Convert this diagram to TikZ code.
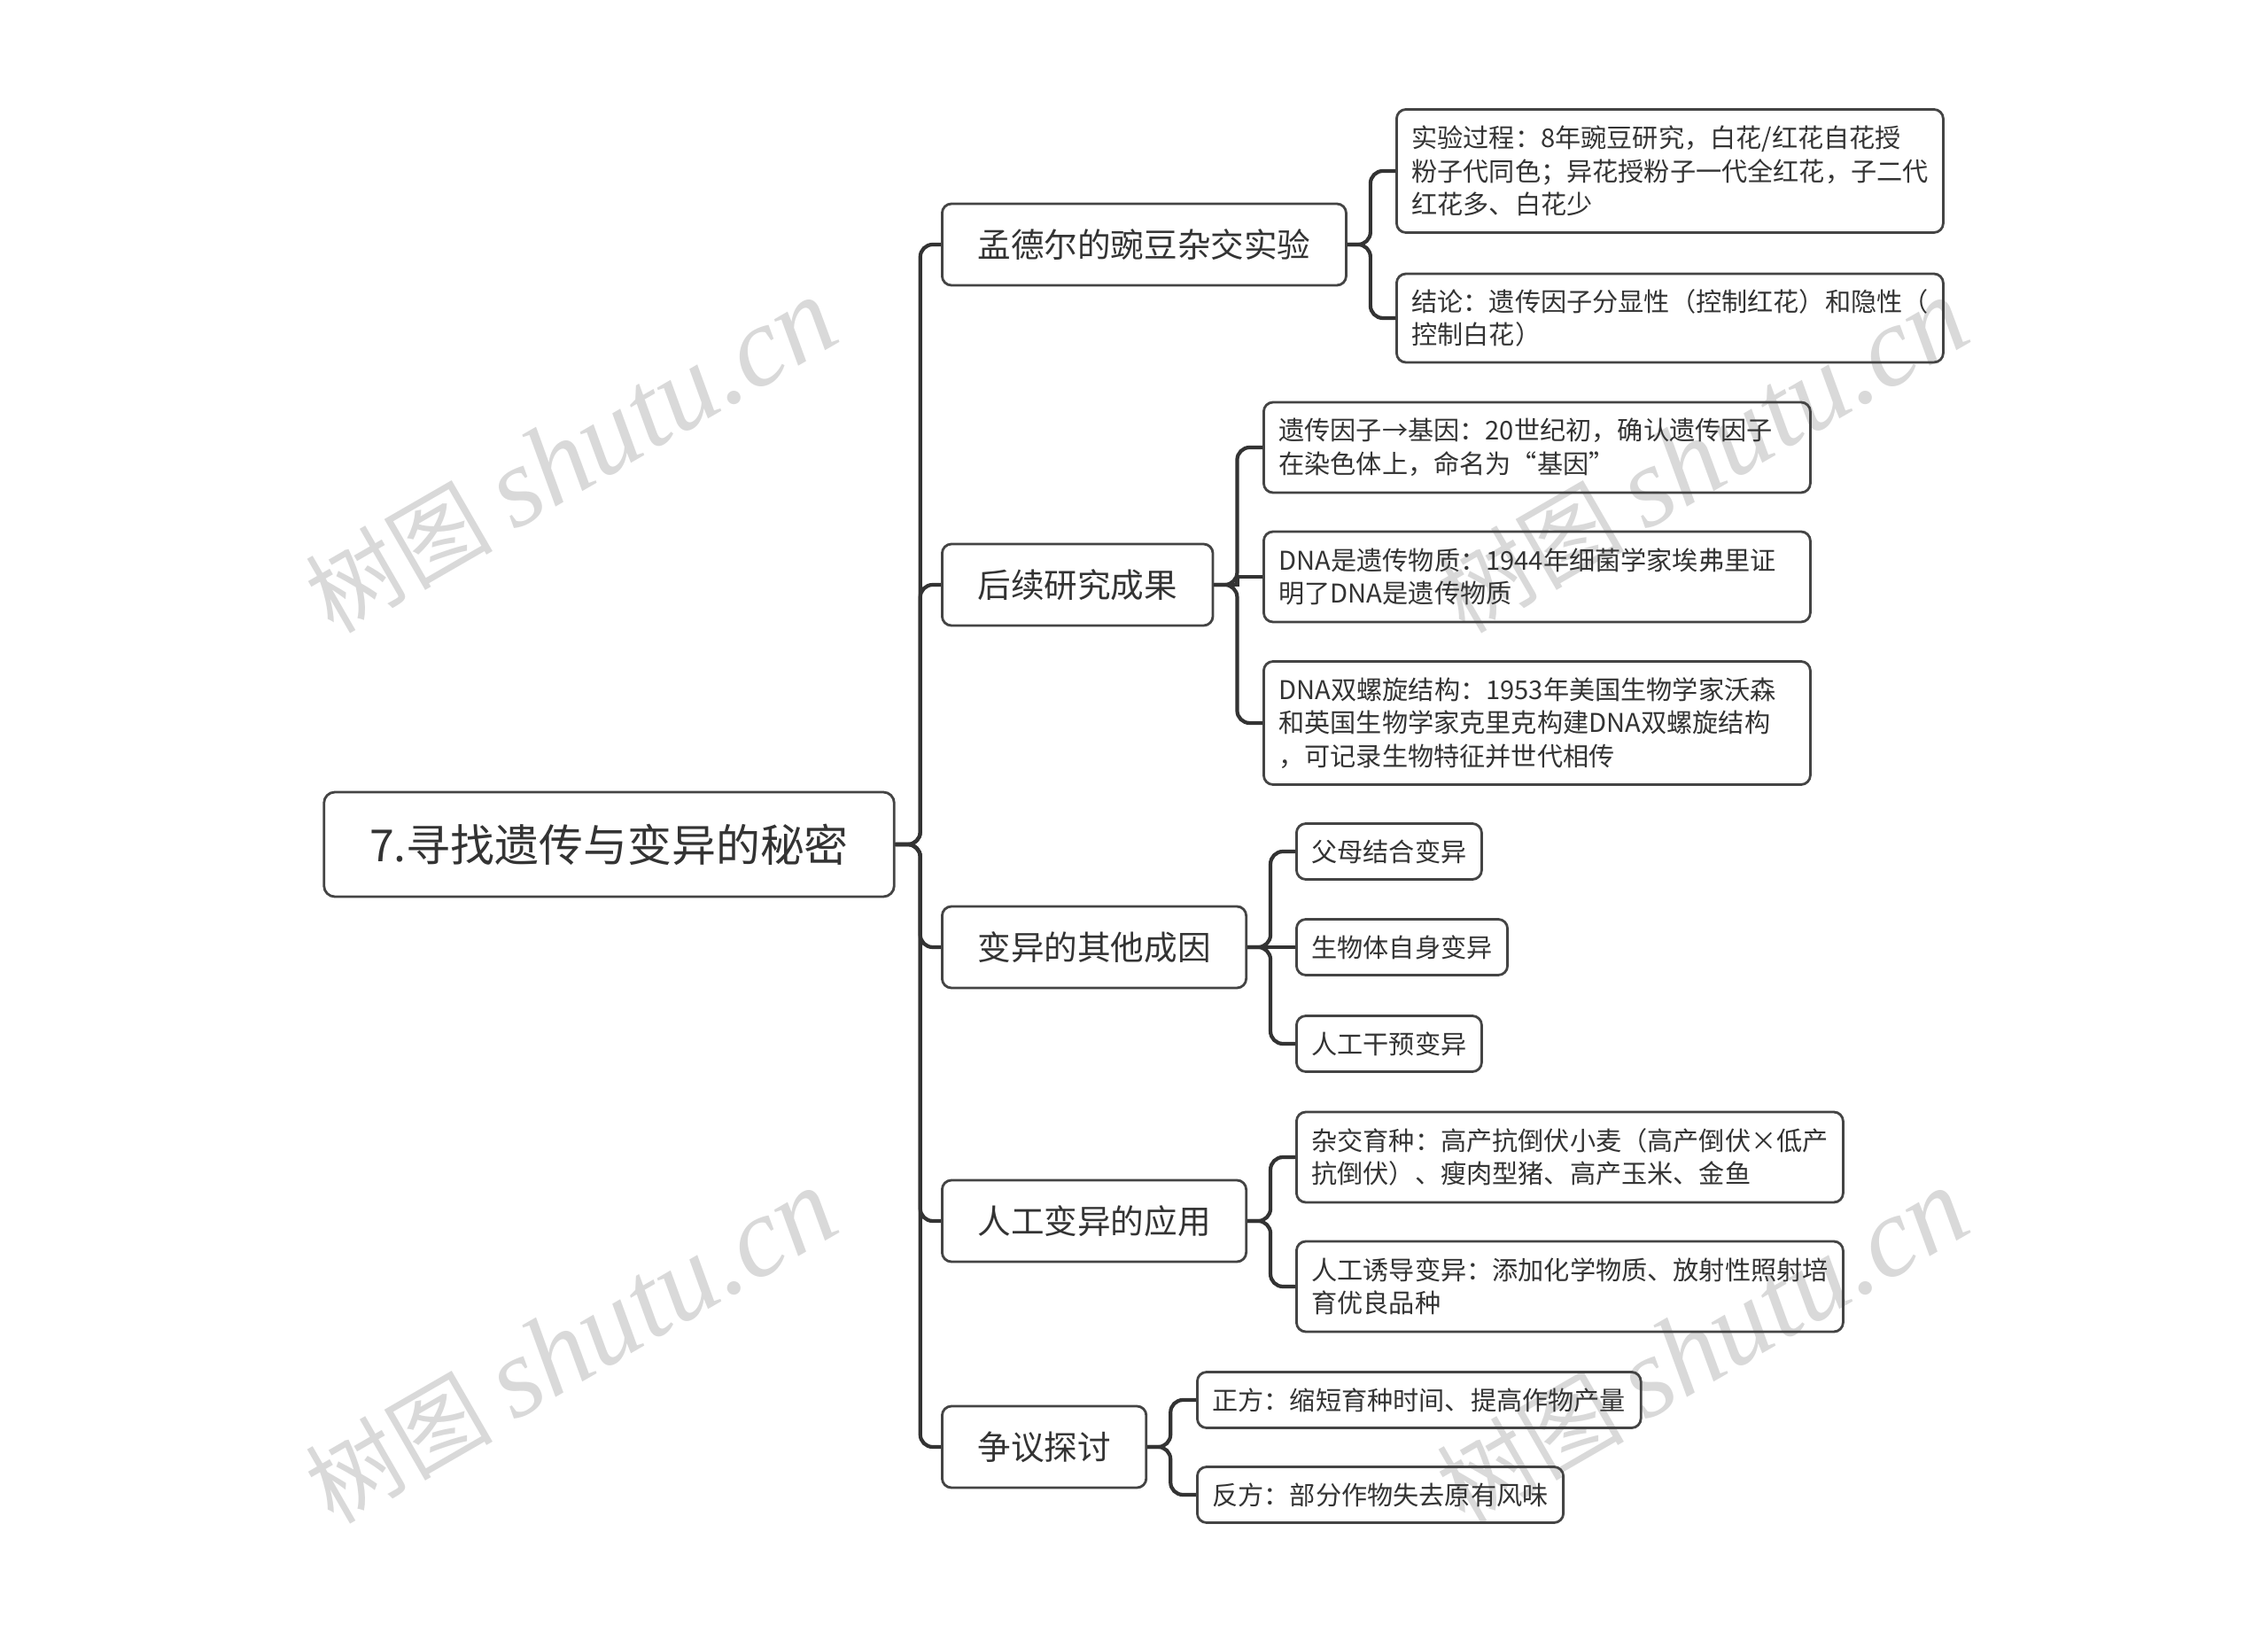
\documentclass[tikz,border=0pt]{standalone}
\usepackage{fontspec}
\setmainfont{Noto Sans CJK SC}
\newfontfamily\markfont{Liberation Serif}
\definecolor{boxline}{HTML}{444444}
\definecolor{inktext}{HTML}{333333}
\definecolor{markgray}{HTML}{D9D9D9}
\tikzset{
  rootbox/.style={draw=boxline,line width=.8pt,rounded corners=3.5pt,text=inktext,inner xsep=.515cm,inner ysep=0pt,minimum height=1.18cm,font=\fontsize{14.2}{17}\selectfont},
  topic/.style={draw=boxline,line width=.8pt,rounded corners=3pt,text=inktext,inner xsep=.40cm,inner ysep=0pt,minimum height=.92cm,font=\fontsize{10.7}{13}\selectfont},
  leaf/.style={draw=boxline,line width=.8pt,rounded corners=3pt,text=inktext,inner xsep=.17cm,inner ysep=0pt,align=left,font=\fontsize{8.3}{10.7}\selectfont},
  wide/.style={leaf,text width=5.83cm},
  link/.style={draw=inktext,line width=1.2pt,rounded corners=4pt},
  wmark/.style={text=markgray,rotate=30,font=\fontsize{30}{33}\selectfont}
}
\begin{document}
\begin{tikzpicture}
  \useasboundingbox (0,0) rectangle (25.6,-18.43);

  % watermark goes under everything
  \foreach \x/\y/\n in {6.45/-5.15/wa,19.22/-5.15/wb,6.45/-15.2/wc,19.22/-15.2/wd}
    \node[wmark] (\n) at (\x,\y) {树图 {\markfont\itshape\fontsize{36.5}{40}\selectfont shutu.cn}};

  \node[rootbox] (root) at (6.875,-9.53) {7.寻找遗传与变异的秘密};

  \node[topic,anchor=west] (mendel) at (10.62,-2.76) {孟德尔的豌豆杂交实验};
  \node[topic,anchor=west] (later) at (10.62,-6.60) {后续研究成果};
  \node[topic,anchor=west] (cause) at (10.62,-10.69) {变异的其他成因};
  \node[topic,anchor=west] (apply) at (10.62,-13.78) {人工变异的应用};
  \node[topic,anchor=west] (debate) at (10.62,-16.33) {争议探讨};

  \node[wide,anchor=west,minimum height=1.39cm] (mendela) at (15.75,-1.93) {实验过程：8年豌豆研究，白花/红花自花授\\粉子代同色；异花授粉子一代全红花，子二代\\红花多、白花少};
  \node[wide,anchor=west,minimum height=1.0cm] (mendelb) at (15.75,-3.59) {结论：遗传因子分显性（控制红花）和隐性（\\控制白花）};

  \node[wide,anchor=west,minimum height=1.02cm] (latera) at (14.25,-5.05) {遗传因子→基因：20世纪初，确认遗传因子\\在染色体上，命名为“基因”};
  \node[wide,anchor=west,minimum height=1.02cm] (laterb) at (14.25,-6.51) {DNA是遗传物质：1944年细菌学家埃弗里证\\明了DNA是遗传物质};
  \node[wide,anchor=west,minimum height=1.39cm] (laterc) at (14.25,-8.16) {DNA双螺旋结构：1953年美国生物学家沃森\\和英国生物学家克里克构建DNA双螺旋结构\\，可记录生物特征并世代相传};

  \node[leaf,anchor=west,minimum height=.63cm] (causea) at (14.62,-9.61) {父母结合变异};
  \node[leaf,anchor=west,minimum height=.63cm] (causeb) at (14.62,-10.69) {生物体自身变异};
  \node[leaf,anchor=west,minimum height=.63cm] (causec) at (14.62,-11.78) {人工干预变异};

  \node[wide,anchor=west,minimum height=1.02cm] (applya) at (14.62,-13.06) {杂交育种：高产抗倒伏小麦（高产倒伏×低产\\抗倒伏）、瘦肉型猪、高产玉米、金鱼};
  \node[wide,anchor=west,minimum height=1.02cm] (applyb) at (14.62,-14.52) {人工诱导变异：添加化学物质、放射性照射培\\育优良品种};

  \node[leaf,anchor=west,minimum height=.63cm] (debatea) at (13.50,-15.80) {正方：缩短育种时间、提高作物产量};
  \node[leaf,anchor=west,minimum height=.63cm] (debateb) at (13.50,-16.87) {反方：部分作物失去原有风味};

  \draw[link] (root.east) -- ++(.28,0) |- (mendel.west);
  \draw[link] (root.east) -- ++(.28,0) |- (later.west);
  \draw[link] (root.east) -- ++(.28,0) |- (cause.west);
  \draw[link] (root.east) -- ++(.28,0) |- (apply.west);
  \draw[link] (root.east) -- ++(.28,0) |- (debate.west);

  \draw[link] (mendel.east) -- ++(.26,0) |- (mendela.west);
  \draw[link] (mendel.east) -- ++(.26,0) |- (mendelb.west);

  \draw[link] (later.east) -- ++(.26,0) |- (latera.west);
  \draw[link,sharp corners] (later.east) -- ++(.26,0) |- (laterb.west);
  \draw[link] (later.east) -- ++(.26,0) |- (laterc.west);

  \draw[link] (cause.east) -- ++(.26,0) |- (causea.west);
  \draw[link] (cause.east) -- (causeb.west);
  \draw[link] (cause.east) -- ++(.26,0) |- (causec.west);

  \draw[link] (apply.east) -- ++(.26,0) |- (applya.west);
  \draw[link] (apply.east) -- ++(.26,0) |- (applyb.west);

  \draw[link] (debate.east) -- ++(.26,0) |- (debatea.west);
  \draw[link] (debate.east) -- ++(.26,0) |- (debateb.west);
\end{tikzpicture}
\end{document}
